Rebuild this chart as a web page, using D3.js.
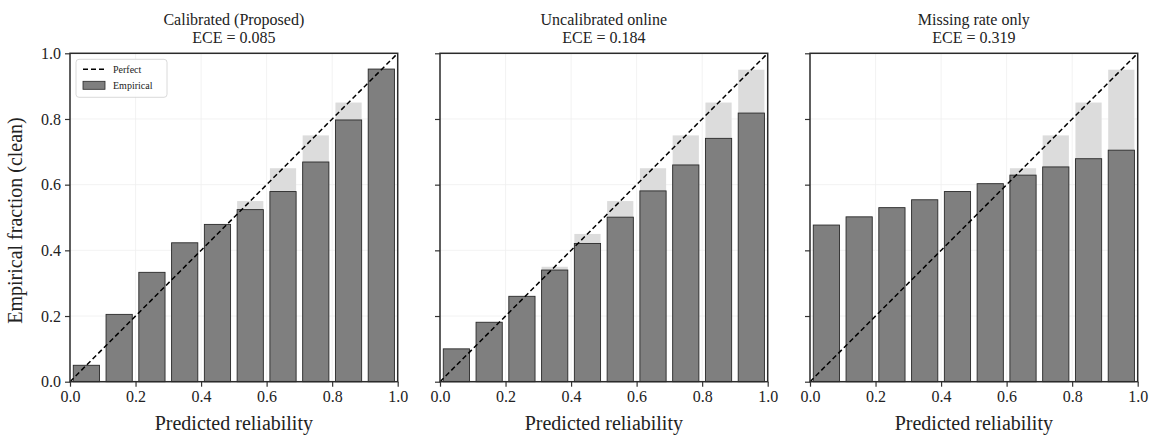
<html>
<head>
<meta charset="utf-8">
<script src="https://d3js.org/d3.v7.min.js"></script>
<style>
  body { margin: 0; background: #fff; }
  text { font-family: "Liberation Serif", "DejaVu Serif", serif; fill: #222; }
</style>
</head>
<body>
<div id="container"></div>
<script>
/* Data */
var binCenters = [0.05, 0.15, 0.25, 0.35, 0.45, 0.55, 0.65, 0.75, 0.85, 0.95];
var calibrated = [0.05, 0.205, 0.333, 0.423, 0.479, 0.524, 0.579, 0.669, 0.797, 0.952];
var uncalibrated = [0.10, 0.181, 0.260, 0.340, 0.421, 0.501, 0.581, 0.660, 0.741, 0.818];
var missingOnly = [0.477, 0.502, 0.530, 0.554, 0.579, 0.603, 0.629, 0.654, 0.679, 0.705];
var panelTitles = ["Calibrated (Proposed)", "Uncalibrated online", "Missing rate only"];
var eceLabels = ["ECE = 0.085", "ECE = 0.184", "ECE = 0.319"];
var tickValues = [0, 0.2, 0.4, 0.6, 0.8, 1.0];

var series = [calibrated, uncalibrated, missingOnly];

var width = 1153, height = 436;
var panelLeft = [70, 440, 810],
    panelW = 327.7,
    plotTop = 53.3,
    panelH = 328.4,
    barWidth = 0.08;

var svg = d3.select('#container').append('svg')
  .attr('width', width)
  .attr('height', height);

var y = d3.scaleLinear().domain([0, 1]).range([panelH, 0]);

series.forEach(function(vals, p) {
  var x = d3.scaleLinear().domain([0, 1]).range([0, panelW]);
  var g = svg.append('g').attr('transform', 'translate(' + panelLeft[p] + ',' + plotTop + ')');

  // grid
  g.append('g').selectAll('line').data(tickValues).join('line')
    .attr('x1', d => x(d)).attr('x2', d => x(d))
    .attr('y1', 0).attr('y2', panelH)
    .attr('stroke', '#efefef').attr('stroke-width', 0.8);
  g.append('g').selectAll('line').data(tickValues).join('line')
    .attr('y1', d => y(d)).attr('y2', d => y(d))
    .attr('x1', 0).attr('x2', panelW)
    .attr('stroke', '#efefef').attr('stroke-width', 0.8);

  // perfect-calibration background bars
  g.append('g').selectAll('rect').data(binCenters).join('rect')
    .attr('x', d => x(d - barWidth / 2))
    .attr('width', x(barWidth) - x(0))
    .attr('y', d => y(d))
    .attr('height', d => y(0) - y(d))
    .attr('fill', '#dcdcdc');

  // empirical bars
  g.append('g').selectAll('rect').data(vals).join('rect')
    .attr('x', (d, i) => x(binCenters[i] - barWidth / 2))
    .attr('width', x(barWidth) - x(0))
    .attr('y', d => y(d))
    .attr('height', d => y(0) - y(d))
    .attr('fill', '#7f7f7f')
    .attr('stroke', '#2a2a2a')
    .attr('stroke-width', 0.9);

  // diagonal
  g.append('line')
    .attr('x1', x(0)).attr('y1', y(0))
    .attr('x2', x(1)).attr('y2', y(1))
    .attr('stroke', '#000').attr('stroke-width', 1.5)
    .attr('stroke-dasharray', '5,3');

  // axes
  var xAxis = d3.axisBottom(x).tickValues(tickValues).tickSize(5).tickPadding(4)
    .tickFormat(d3.format('.1f'));
  var yAxis = d3.axisLeft(y).tickValues(tickValues).tickSize(5).tickPadding(4)
    .tickFormat(p === 0 ? d3.format('.1f') : '');

  var gx = g.append('g').attr('transform', 'translate(0,' + panelH + ')').call(xAxis);
  var gy = g.append('g').call(yAxis);
  [gx, gy].forEach(function(a) {
    a.select('.domain').remove();
    a.selectAll('line').attr('stroke', '#333').attr('stroke-width', 1.2);
    a.selectAll('text').style('font-size', '16px').attr('fill', '#222');
  });

  // frame
  g.append('rect')
    .attr('x', 0).attr('y', 0).attr('width', panelW).attr('height', panelH)
    .attr('fill', 'none').attr('stroke', '#2b2b2b').attr('stroke-width', 1.5);

  // titles
  g.append('text').attr('x', panelW / 2).attr('y', -28)
    .attr('text-anchor', 'middle').style('font-size', '16px').text(panelTitles[p]);
  g.append('text').attr('x', panelW / 2).attr('y', -10)
    .attr('text-anchor', 'middle').style('font-size', '16px').text(eceLabels[p]);

  // x label
  g.append('text').attr('x', panelW / 2).attr('y', panelH + 48)
    .attr('text-anchor', 'middle').style('font-size', '20px').text('Predicted reliability');

  if (p === 0) {
    g.append('text')
      .attr('transform', 'translate(-48,' + (panelH / 2 + 3) + ') rotate(-90)')
      .attr('text-anchor', 'middle').style('font-size', '20px')
      .text('Empirical fraction (clean)');

    // legend
    var lg = g.append('g').attr('transform', 'translate(6,6)');
    lg.append('rect').attr('width', 91).attr('height', 38).attr('rx', 3)
      .attr('fill', '#fff').attr('fill-opacity', 0.85)
      .attr('stroke', '#d0d0d0').attr('stroke-width', 0.8);
    lg.append('line').attr('x1', 7).attr('x2', 29).attr('y1', 10).attr('y2', 10)
      .attr('stroke', '#000').attr('stroke-width', 1.5).attr('stroke-dasharray', '5,3');
    lg.append('rect').attr('x', 7).attr('y', 22).attr('width', 22).attr('height', 8)
      .attr('fill', '#7f7f7f').attr('stroke', '#2a2a2a').attr('stroke-width', 0.8);
    lg.append('text').attr('x', 37).attr('y', 13.5).style('font-size', '10px').text('Perfect');
    lg.append('text').attr('x', 37).attr('y', 30).style('font-size', '10px').text('Empirical');
  }
});
</script>
</body>
</html>
